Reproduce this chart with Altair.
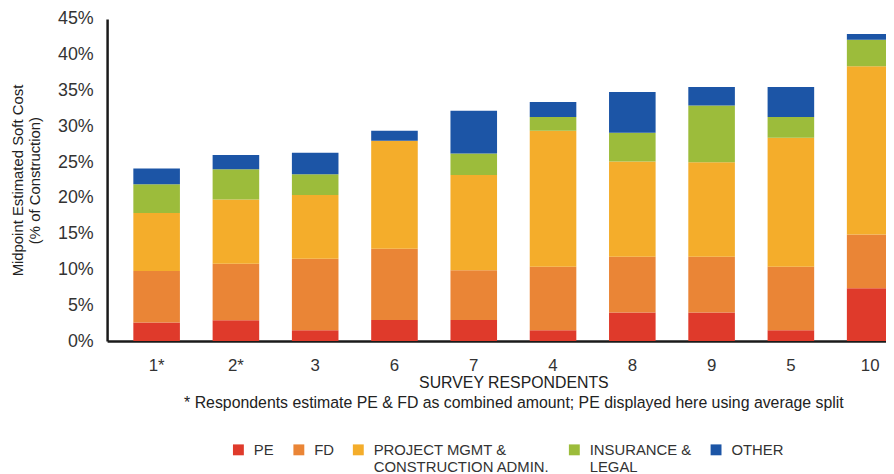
import altair as alt
import pandas as pd

respondents = ["1*", "2*", "3", "6", "7", "4", "8", "9", "5", "10"]
categories = ["PE", "FD", "PROJECT MGMT &|CONSTRUCTION ADMIN.", "INSURANCE &|LEGAL", "OTHER"]
colors = ["#DF3A2B", "#EA8536", "#F4AD2B", "#9CBC3B", "#1C55A6"]

pe = [2.6, 2.9, 1.5, 2.95, 2.95, 1.5, 4.0, 4.0, 1.5, 7.4]
fd = [7.2, 7.9, 10.0, 9.95, 6.95, 8.9, 7.8, 7.8, 8.9, 7.5]
pm = [8.1, 9.0, 8.9, 15.1, 13.3, 19.0, 13.3, 13.2, 18.0, 23.5]
ins = [4.0, 4.2, 2.9, 0.0, 3.0, 1.9, 4.0, 7.9, 2.9, 3.7]
other = [2.2, 2.0, 3.0, 1.4, 6.0, 2.1, 5.7, 2.6, 4.2, 0.8]

y_ticks = [0, 5, 10, 15, 20, 25, 30, 35, 40, 45]
y_title = ["Midpoint Estimated Soft Cost", "(% of Construction)"]
x_title = ["SURVEY RESPONDENTS",
           "* Respondents estimate PE & FD as combined amount; PE displayed here using average split"]

series = [pe, fd, pm, ins, other]
rows = []
for ci, (cat, vals) in enumerate(zip(categories, series)):
    for r, v in zip(respondents, vals):
        rows.append({"respondent": r, "category": cat, "value": v, "order": ci})
df = pd.DataFrame(rows)

FONT = "Liberation Sans"

chart = alt.Chart(df).mark_bar().encode(
    x=alt.X(
        "respondent:N",
        sort=respondents,
        scale=alt.Scale(range=[0, 820], paddingInner=0.4125, paddingOuter=0.331),
        axis=alt.Axis(
            title=x_title,
            titleFont=FONT, titleFontSize=16, titleFontWeight="normal", titleColor="#222",
            titleLineHeight=20, titleBaseline="top", titleY=34,
            labelFont=FONT, labelFontSize=17, labelColor="#333", labelAngle=0,
            labelPadding=17, ticks=False, tickSize=0,
            domainColor="#1a1a1a", domainWidth=2.5,
        ),
    ),
    y=alt.Y(
        "value:Q",
        stack="zero",
        scale=alt.Scale(domain=[0, 45], nice=False),
        axis=alt.Axis(
            values=y_ticks, labelExpr="datum.value + '%'",
            title=y_title,
            titleFont=FONT, titleFontSize=15, titleFontWeight="normal", titleColor="#222",
            titleLineHeight=17, titleBaseline="top", titleX=-97, titleY=162.5, titleAlign="center",
            labelFont=FONT, labelFontSize=18, labelColor="#333",
            labelPadding=14, ticks=False, tickSize=0, grid=False,
            domainColor="#1a1a1a", domainWidth=2.5,
        ),
    ),
    color=alt.Color(
        "category:N",
        scale=alt.Scale(domain=categories, range=colors),
        legend=alt.Legend(
            title=None, orient="none", legendX=125, legendY=427,
            direction="horizontal", columns=5, columnPadding=17,
            symbolType="square", symbolSize=121, symbolStrokeWidth=0,
            labelFont=FONT, labelFontSize=15, labelColor="#333",
            labelOffset=8, labelLimit=300, labelBaseline="middle",
            labelExpr="split(indexof(datum.label, '|') >= 0 ? datum.label : datum.label + '|', '|')",
            padding=0,
        ),
    ),
    order=alt.Order("order:Q", sort="ascending"),
).properties(
    width=786, height=325,
    autosize=alt.AutoSizeParams(type="none"),
    padding={"left": 100, "top": 9, "right": 0, "bottom": 132},
).configure_view(stroke=None)

chart.save("out.html", embed_options={"renderer": "svg", "actions": False})
